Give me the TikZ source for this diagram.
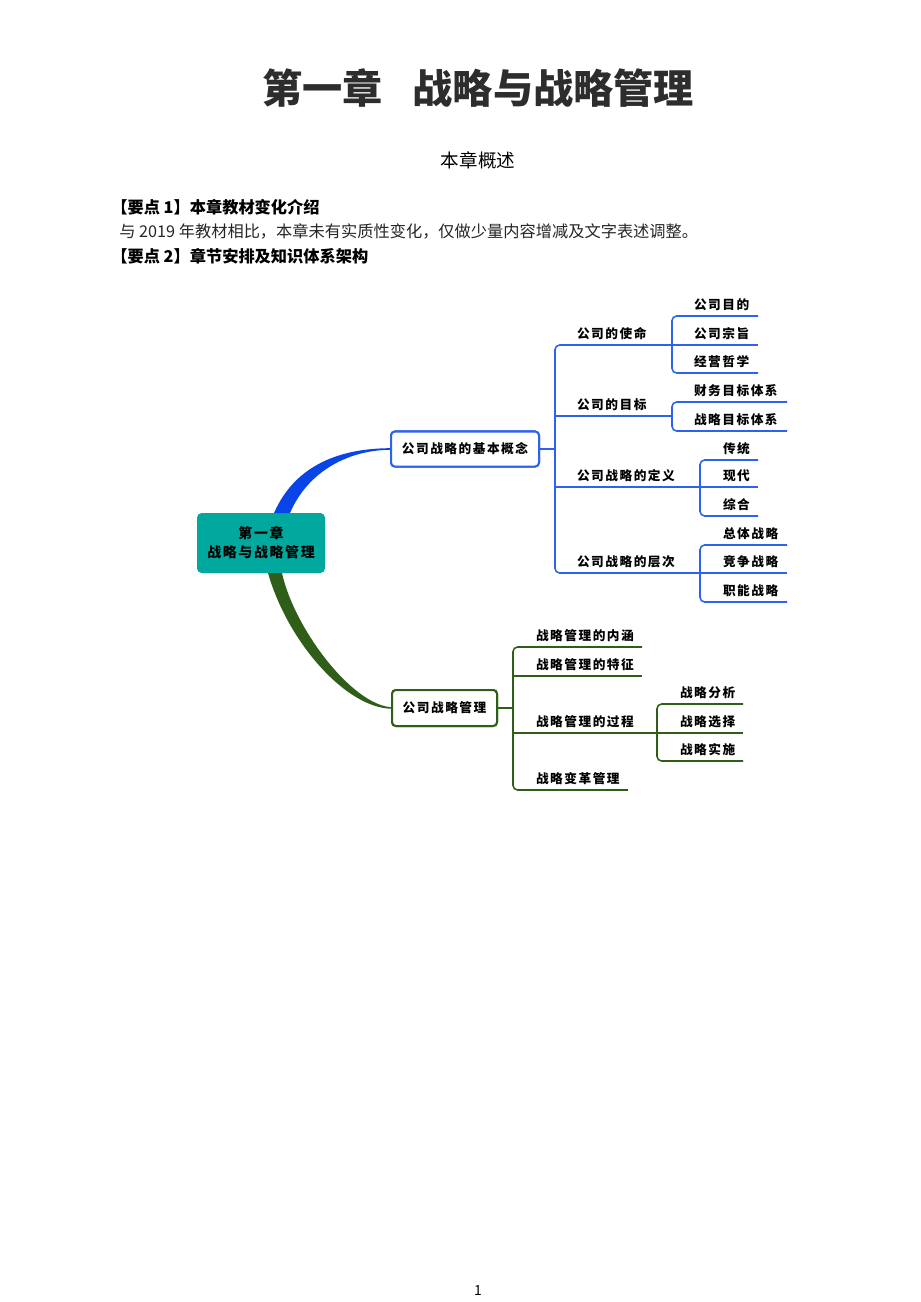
\documentclass[tikz,border=0pt]{standalone}
\usepackage{fontspec}
\setmainfont{Noto Sans CJK SC}
\newfontfamily\mapfont{Noto Sans CJK SC}[LetterSpace=12]
\usetikzlibrary{calc}

\definecolor{mapteal}{RGB}{0,168,158}
\definecolor{bluecurve}{RGB}{8,68,232}
\definecolor{blueline}{RGB}{44,98,238}
\definecolor{greenline}{RGB}{47,94,24}
\definecolor{titlegray}{RGB}{45,45,45}

\newcommand\topicfont{\mapfont\bfseries\fontsize{8.2}{10}\selectfont}

\tikzset{
  title/.style={inner sep=0pt, text=titlegray, font=\bfseries\fontsize{26}{30}\selectfont},
  subhead/.style={inner sep=0pt, font=\fontsize{12}{14}\selectfont},
  point/.style={anchor=west, inner sep=0pt, font=\bfseries\fontsize{10.5}{12}\selectfont},
  para/.style={anchor=west, inner sep=0pt, text=black!85, font=\fontsize{10.5}{12}\selectfont},
  mainbox/.style={fill=mapteal, rounded corners=3pt, minimum width=128*0.647pt,
    minimum height=60*0.647pt, inner sep=0pt, outer sep=0pt, align=center,
    font=\mapfont\bfseries\fontsize{9}{12.3}\selectfont},
  bluebox/.style={draw=blueline, line width=1.3pt, rounded corners=2.5pt, fill=white,
    minimum width=148*0.647pt, minimum height=35*0.647pt, inner sep=0pt, outer sep=0pt, font=\topicfont},
  greenbox/.style={draw=greenline, line width=1.3pt, rounded corners=2.5pt, fill=white,
    minimum width=105*0.647pt, minimum height=36*0.647pt, inner sep=0pt, outer sep=0pt, font=\topicfont},
  topic/.style={anchor=south west, inner sep=0pt, outer sep=0pt, text depth=4pt,
    text width=#1*0.647pt, align=left, font=\topicfont},
  bline/.style={draw=blueline, line width=1pt, rounded corners=3pt},
  gline/.style={draw=greenline, line width=1pt, rounded corners=3pt}
}

\begin{document}
\begin{tikzpicture}[x=0.647pt, y=-0.647pt]
  \fill[white] (0,0) rectangle (920,1302);
  \useasboundingbox (0,0) rectangle (920,1302);

  % page heading
  \node[title] (ttl) at (478,88) {第一章\hspace{0.75em}战略与战略管理};
  \node[subhead] (sum) at (478,160) {本章概述};
  \node[point] (pt1) at (111,207) {【要点 1】本章教材变化介绍};
  \node[para] (txt) at (119,231) {与 2019 年教材相比，本章未有实质性变化，仅做少量内容增减及文字表述调整。};
  \node[point] (pt2) at (111,256) {【要点 2】章节安排及知识体系架构};
  \node[inner sep=0pt, font=\fontsize{9}{10}\selectfont] (pg) at (478,1291) {1};

  % mind map: centre and first level
  \node[mainbox] (root) at (261,543) {第一章\\战略与战略管理};
  \node[bluebox] (b1) at (465,449) {公司战略的基本概念};
  \node[greenbox] (b2) at (444.5,708) {公司战略管理};

  \fill[bluecurve] ($(root.north)+(13,0)$) .. controls +(22,-50) and +(-48,0) .. ($(b1.west)+(0,-0.8)$)
    -- ($(b1.west)+(0,0.8)$) .. controls +(-42,0) and +(18,-42) .. ($(root.north)+(29,0)$) -- cycle;
  \fill[greenline] ($(root.south)+(7,0)$) .. controls +(20,70) and +(-45,0) .. ($(b2.west)+(0,0.7)$)
    -- ($(b2.west)+(0,-0.7)$) .. controls +(-40,-2) and +(12,55) .. ($(root.south)+(21,0)$) -- cycle;
  \node[bluebox] at (b1) {公司战略的基本概念};
  \node[greenbox] at (b2) {公司战略管理};

  % blue branch
  \coordinate (bt) at ($(b1.east)+(16,0)$);
  \node[topic=95] (mis) at (577,345) {公司的使命};
  \node[topic=64] (m1) at (694,316) {公司目的};
  \node[topic=64] (m2) at (694,345) {公司宗旨};
  \node[topic=64] (m3) at (694,373) {经营哲学};
  \node[topic=95] (goal) at (577,416) {公司的目标};
  \node[topic=93] (g1) at (694,402) {财务目标体系};
  \node[topic=93] (g2) at (694,431) {战略目标体系};
  \node[topic=123] (defn) at (577,487) {公司战略的定义};
  \node[topic=35] (d1) at (723,460) {传统};
  \node[topic=35] (d2) at (723,487) {现代};
  \node[topic=35] (d3) at (723,516) {综合};
  \node[topic=123] (lvl) at (577,573) {公司战略的层次};
  \node[topic=64] (l1) at (723,545) {总体战略};
  \node[topic=64] (l2) at (723,573) {竞争战略};
  \node[topic=64] (l3) at (723,602) {职能战略};

  \draw[bline] (b1.east) -- (bt);
  \draw[bline] (mis.south east) -| (bt) |- (lvl.south east);
  \draw[bline] (bt |- goal.south) -- (goal.south east);
  \draw[bline] (bt |- defn.south) -- (defn.south east);
  \draw[bline] (m1.south east) -| (mis.south east) |- (m3.south east);
  \draw[bline] (mis.south east) -- (m2.south east);
  \draw[bline] (g1.south east) -| (goal.south east) |- (g2.south east);
  \draw[bline] (d1.south east) -| (defn.south east) |- (d3.south east);
  \draw[bline] (defn.south east) -- (d2.south east);
  \draw[bline] (l1.south east) -| (lvl.south east) |- (l3.south east);
  \draw[bline] (lvl.south east) -- (l2.south east);

  % green branch
  \coordinate (gt) at ($(b2.east)+(16,0)$);
  \node[topic=106] (inn) at (536,647) {战略管理的内涵};
  \node[topic=106] (feat) at (536,676) {战略管理的特征};
  \node[topic=121] (proc) at (536,733) {战略管理的过程};
  \node[topic=63] (p1) at (680,704) {战略分析};
  \node[topic=63] (p2) at (680,733) {战略选择};
  \node[topic=63] (p3) at (680,761) {战略实施};
  \node[topic=92] (chg) at (536,790) {战略变革管理};

  \draw[gline] (b2.east) -- (gt);
  \draw[gline] (inn.south east) -| (gt) |- (chg.south east);
  \draw[gline] (gt |- feat.south) -- (feat.south east);
  \draw[gline] (gt |- proc.south) -- (proc.south east);
  \draw[gline] (p1.south east) -| (proc.south east) |- (p3.south east);
  \draw[gline] (proc.south east) -- (p2.south east);
\end{tikzpicture}
\end{document}
